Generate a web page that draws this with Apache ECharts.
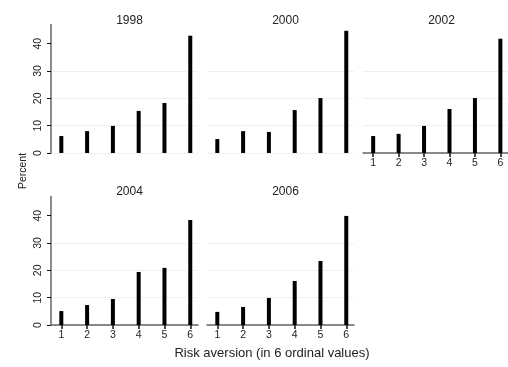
<!DOCTYPE html>
<html>
<head>
<meta charset="utf-8">
<script src="https://cdn.jsdelivr.net/npm/echarts@6/dist/echarts.min.js"></script>
<style>
  html, body { margin: 0; padding: 0; background: #fff; }
  #chart { width: 508px; height: 367px; }
</style>
</head>
<body>
<div id="chart"></div>
<script>
// Distribution of risk aversion by survey wave (percent of respondents)
const years = ['1998', '2000', '2002', '2004', '2006'];
const riskLevels = [1, 2, 3, 4, 5, 6];
const yTicks = [0, 10, 20, 30, 40];

const pct1998 = [6.2, 8.0, 9.9, 15.4, 18.3, 42.9];
const pct2000 = [5.1, 8.0, 7.7, 15.7, 20.1, 44.7];
const pct2002 = [6.2, 7.0, 9.9, 16.1, 20.1, 41.8];
const pct2004 = [5.1, 7.3, 9.5, 19.4, 20.9, 38.4];
const pct2006 = [4.8, 6.6, 9.9, 16.1, 23.4, 39.9];

const panelValues = [pct1998, pct2000, pct2002, pct2004, pct2006];

// Panel layout: 3 columns on top row, 2 on bottom row
const FONT = 'Liberation Sans, Arial, sans-serif';
const colLeft = [51, 207, 363];
const rowTop = [24.5, 196.5];
const panelW = 147;
const panelH = 128.5;
const panelPos = [[0, 0], [0, 1], [0, 2], [1, 0], [1, 1]];
// Which panels carry visible x and y axes
const showX = [false, false, true, true, true];
const showY = [true, false, false, true, false];

const grids = [], xAxes = [], yAxes = [], series = [], titles = [];

panelPos.forEach(([r, c], i) => {
  const left = colLeft[c], top = rowTop[r];
  grids.push({ left: left, top: top, width: panelW, height: panelH });

  xAxes.push({
    gridIndex: i,
    type: 'value',
    min: 0.6,
    max: 6.3,
    splitLine: { show: false },
    axisLine: { show: showX[i], onZero: false, lineStyle: { color: '#666', width: 1.5 } },
    axisTick: { show: showX[i], customValues: riskLevels, length: 4, lineStyle: { color: '#111', width: 1.5 } },
    axisLabel: { show: showX[i], customValues: riskLevels, margin: 5, fontSize: 10.5, color: '#222', fontFamily: FONT }
  });

  yAxes.push({
    gridIndex: i,
    type: 'value',
    min: 0,
    max: 47,
    interval: 10,
    splitLine: { show: true, showMaxLine: false, lineStyle: { color: '#eaf2f3', width: 1 } },
    axisLine: { show: showY[i], lineStyle: { color: '#666', width: 1.5 } },
    axisTick: { show: showY[i], customValues: yTicks, length: 4, lineStyle: { color: '#111', width: 1 } },
    axisLabel: { show: showY[i], customValues: yTicks, rotate: 90, margin: 7, fontSize: 10.5, color: '#222', fontFamily: FONT }
  });

  series.push({
    type: 'bar',
    xAxisIndex: i,
    yAxisIndex: i,
    barWidth: 4,
    itemStyle: { color: '#000' },
    silent: true,
    data: riskLevels.map((lv, k) => [lv, panelValues[i][k]])
  });

  titles.push({
    text: years[i],
    left: left + panelW / 2,
    top: r === 0 ? 10 : 181,
    textAlign: 'center',
    textStyle: { fontSize: 12, fontWeight: 'normal', color: '#222', fontFamily: FONT }
  });
});

const chart = echarts.init(document.getElementById('chart'), null, { renderer: 'canvas' });
chart.setOption({
  animation: false,
  backgroundColor: '#fff',
  title: titles,
  grid: grids,
  xAxis: xAxes,
  yAxis: yAxes,
  series: series,
  graphic: [
    {
      type: 'text',
      x: 23,
      y: 171,
      rotation: Math.PI / 2,
      style: {
        text: 'Percent',
        fontSize: 10.5,
        fontFamily: FONT,
        fill: '#222',
        align: 'center',
        verticalAlign: 'middle'
      }
    },
    {
      type: 'text',
      x: 272,
      y: 353,
      style: {
        text: 'Risk aversion (in 6 ordinal values)',
        fontSize: 13,
        fontFamily: FONT,
        fill: '#222',
        align: 'center',
        verticalAlign: 'middle'
      }
    }
  ]
});
</script>
</body>
</html>
